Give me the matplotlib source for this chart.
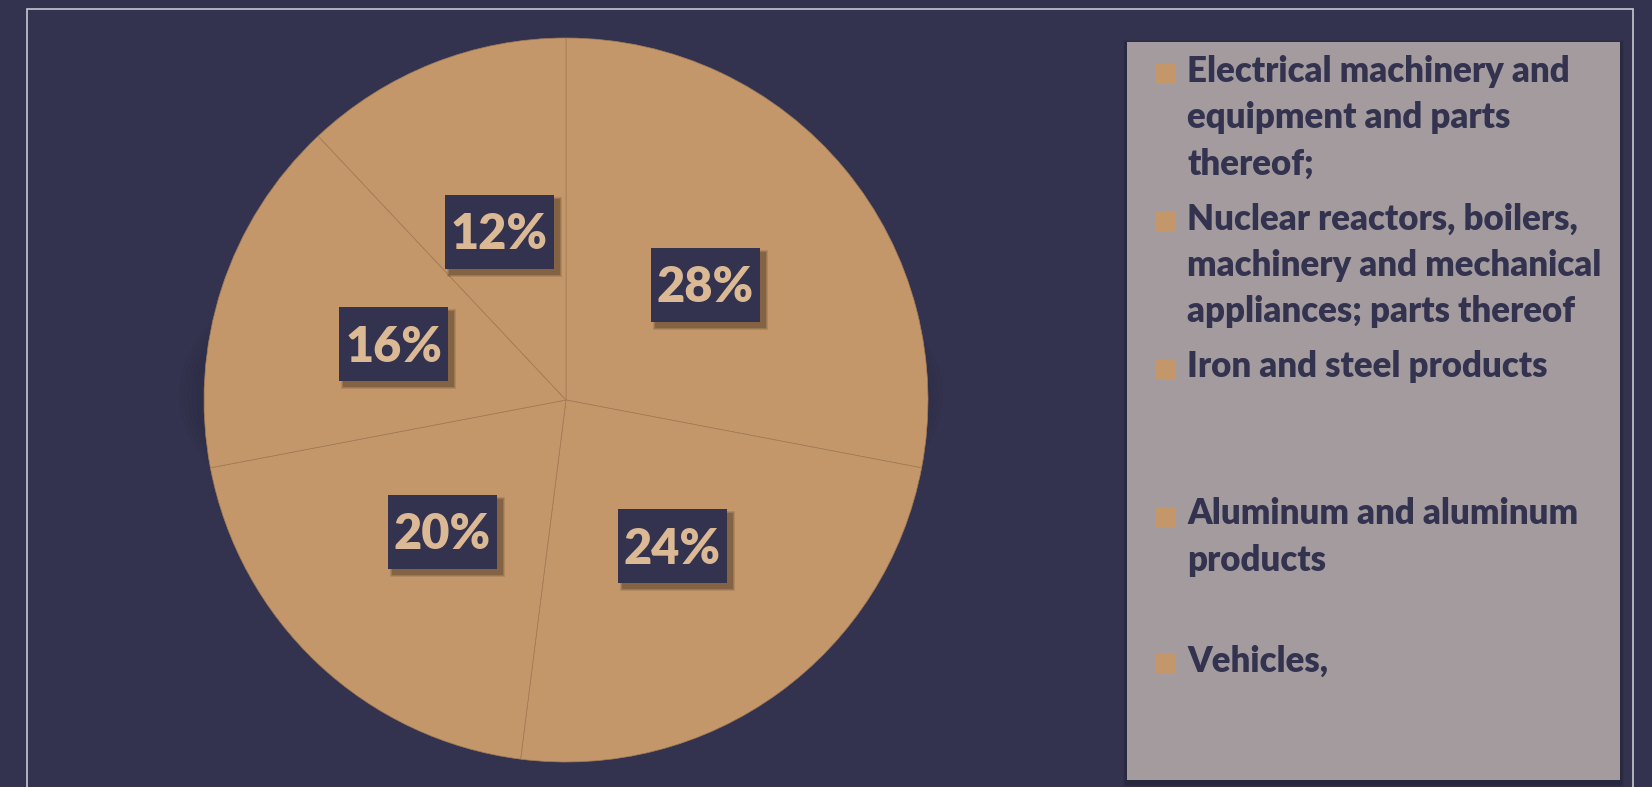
import matplotlib
matplotlib.use("Agg")
import matplotlib.pyplot as plt
from matplotlib.patches import Rectangle
from matplotlib.transforms import offset_copy

categories = [
    "Electrical machinery and\nequipment and parts\nthereof;",
    "Nuclear reactors, boilers,\nmachinery and mechanical\nappliances; parts thereof",
    "Iron and steel products",
    "Aluminum and aluminum\nproducts",
    "Vehicles,",
]
shares = [28, 24, 20, 16, 12]

BG = "#33334f"
TAN = "#c3976a"
LABEL_TXT = "#dcb995"
LEGEND_BG = "#a39b9e"
FONT = "Lato"
WEIGHT = "heavy"

W, H = 1652, 787
fig = plt.figure(figsize=(W / 100, H / 100), dpi=100)
fig.patch.set_facecolor(BG)


def fx(x):
    return x / W


def fy(y):
    return 1 - y / H


def rect_px(x0, y0, x1, y1, host=None, **kw):
    """rectangle given in pixel coords (y from top)"""
    r = Rectangle((fx(x0), fy(y1)), (x1 - x0) / W, (y1 - y0) / H,
                  transform=fig.transFigure, clip_on=False, **kw)
    (host or fig).add_artist(r)
    return r


# outer frame line
rect_px(27, 9, 1633, 800, fill=False, edgecolor="#c9c9d2", linewidth=1.2, zorder=0)

# soft shadow behind pie
cx, cy, R = 566, 400, 362
for i in range(5):
    r = R + 3 + i * 4
    fig.add_artist(plt.Circle((fx(cx - 5), fy(cy - 5)), r / W, transform=fig.transFigure,
                              color="#22223a", alpha=0.05, zorder=0))

ax = fig.add_axes([fx(cx - R), fy(cy + R), 2 * R / W, 2 * R / H])
ax.set_facecolor("none")
wedges, _, autotexts = ax.pie(
    shares, startangle=90, counterclock=False,
    colors=[TAN] * len(shares), radius=1.0,
    autopct=lambda p: f"{p:.0f}%", pctdistance=0.5,
    wedgeprops=dict(edgecolor="#a47c55", linewidth=0.5),
    textprops=dict(color=LABEL_TXT, fontsize=35, fontweight=WEIGHT, family=FONT),
)
ax.set_xlim(-1, 1)
ax.set_ylim(-1, 1)
ax.set_aspect("equal")
ax.axis("off")

# label boxes (drawn behind the text) with soft shadow
BW, BH = 109, 74
for t in autotexts:
    t.set_zorder(10)
    px, py = ax.transData.transform(t.get_position())
    t.set_transform(offset_copy(ax.transData, fig=fig, y=-3, units="dots"))
    py_top = H - py
    for k, a in enumerate([0.12, 0.16, 0.22]):
        g = 3 - k
        rect_px(px - BW / 2 + 5 - g, py_top - BH / 2 + 5 - g,
                px + BW / 2 + 5 + g, py_top + BH / 2 + 5 + g, host=ax,
                facecolor="#2e2012", alpha=a, edgecolor="none", zorder=5)
    rect_px(px - BW / 2, py_top - BH / 2, px + BW / 2, py_top + BH / 2, host=ax,
            facecolor=BG, edgecolor="none", zorder=6)

# legend box with shadow
lx0, ly0, lx1, ly1 = 1127, 42, 1620, 780
for k, a in enumerate([0.12, 0.15, 0.2]):
    g = 4 - k
    rect_px(lx0 - g, ly0 - g + 2, lx1 + g, ly1 + g + 3,
            facecolor="#1b1b2a", alpha=a, edgecolor="none", zorder=1)
rect_px(lx0, ly0, lx1, ly1, facecolor=LEGEND_BG, edgecolor="none", zorder=2)

first_center = 74
slot_h = 147.5
for i, lab in enumerate(categories):
    yc = first_center + i * slot_h
    rect_px(1156, yc - 10, 1176, yc + 10, facecolor=TAN, edgecolor="none", zorder=3)
    fig.text(fx(1187), fy(yc - 19), lab, ha="left", va="top",
             fontsize=25, fontweight=WEIGHT, family=FONT, color=BG,
             linespacing=1.5, zorder=4)

fig.savefig("out.png", dpi=100, facecolor=BG)
